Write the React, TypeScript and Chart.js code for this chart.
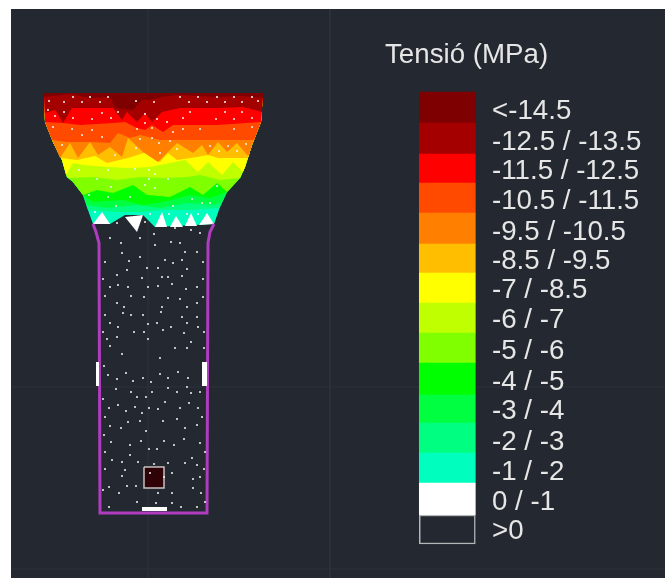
import React, { useEffect, useRef } from "react";
import { Chart, registerables } from "chart.js";

Chart.register(...registerables);

type P = [number, number];

const FONT = '"Liberation Sans", Arial, sans-serif';
const TITLE = "Tensió (MPa)";
const legendLabels = [
  "<-14.5", "-12.5 / -13.5", "-11.5 / -12.5", "-10.5 / -11.5", "-9.5 / -10.5", "-8.5 / -9.5", "-7 / -8.5",
  "-6 / -7", "-5 / -6", "-4 / -5", "-3 / -4", "-2 / -3", "-1 / -2", "0 / -1", ">0",
];
const legendLabelY = [111, 142, 171, 201, 232, 261, 290, 320, 351, 382, 411, 442, 472, 502, 531];
const legendEdges = [92, 123, 154, 183, 213, 244, 273, 303, 333, 363, 395, 423, 453, 483, 515, 544];
const legendColors = [
  "#7f0000", "#a50000", "#ff0000", "#ff4a00", "#ff8000", "#ffbf00", "#ffff00",
  "#bfff00", "#80ff00", "#00ff00", "#00ff40", "#00ff80", "#00ffbf", "#ffffff", "#242830",
];

const panel: P[] = [[11, 9], [665, 9], [665, 578], [11, 578]];
const gridV: P[] = [[330, 9], [330, 578]];
const gridV2: P[] = [[148, 9], [148, 578]];
const gridH: P[] = [[11, 387], [665, 387]];
const gridH2: P[] = [[11, 569], [665, 569]];

const headLeft: P[] = [[44, 93], [45, 122], [53, 142], [62, 160], [67, 177], [73, 182], [83, 195], [88, 210], [93, 224]];
const headRight: P[] = [[263, 93], [261, 122], [252, 145], [245, 167], [240, 178], [227, 192], [220, 207], [214, 224]];
const headBottom: P[] = [[110, 224], [125, 215], [143, 215], [155, 227]];

// lower boundary of each stress band, from the hottest band down
const boundaryA: P[] = [[44, 97], [70, 94], [90, 98], [110, 97], [115, 108], [133, 110], [142, 100], [150, 100], [162, 97], [177, 95], [217, 97], [243, 96], [263, 98]];
const boundaryB: P[] = [[45, 113], [55, 110], [63, 123], [72, 108], [113, 108], [122, 120], [127, 112], [137, 122], [145, 113], [152, 122], [162, 112], [180, 108], [217, 108], [243, 107], [262, 112]];
const boundaryC: P[] = [[45, 122], [63, 123], [80, 125], [113, 123], [125, 122], [137, 128], [145, 130], [152, 125], [163, 132], [173, 125], [217, 125], [261, 122]];
const boundaryD: P[] = [[52, 140], [67, 142], [90, 142], [110, 143], [118, 133], [130, 138], [140, 135], [160, 140], [180, 140], [217, 140], [254, 140]];
const boundaryE: P[] = [[60, 158], [70, 143], [78, 158], [90, 142], [98, 155], [110, 147], [122, 157], [128, 138], [143, 152], [158, 162], [177, 143], [193, 153], [202, 145], [208, 155], [218, 142], [227, 152], [237, 143], [247, 155], [249, 155]];
const boundaryF: P[] = [[61, 158], [77, 160], [95, 156], [107, 163], [128, 158], [147, 152], [160, 162], [168, 153], [177, 160], [197, 157], [208, 155], [218, 158], [237, 158], [248, 158]];
const boundaryG: P[] = [[66, 175], [73, 163], [83, 165], [107, 167], [130, 168], [150, 167], [170, 163], [185, 160], [198, 172], [208, 162], [222, 175], [233, 162], [243, 172]];
const boundaryH: P[] = [[68, 178], [93, 177], [117, 180], [140, 177], [163, 178], [187, 177], [200, 175], [220, 180], [240, 178]];
const boundaryI: P[] = [[73, 182], [83, 195], [97, 190], [113, 193], [133, 185], [147, 195], [170, 197], [190, 187], [203, 195], [217, 183], [227, 192]];
const boundaryJ: P[] = [[83, 195], [93, 202], [123, 200], [143, 205], [163, 202], [190, 195], [210, 198], [227, 192]];
const boundaryK: P[] = [[87, 205], [107, 208], [137, 205], [160, 208], [187, 203], [213, 205], [221, 203]];
const boundaryL: P[] = [[88, 210], [117, 212], [140, 212], [163, 210], [190, 210], [220, 208]];
const boundaries = [boundaryA, boundaryB, boundaryC, boundaryD, boundaryE, boundaryF, boundaryG, boundaryH, boundaryI, boundaryJ, boundaryK, boundaryL];

const whiteTeeth: P[][] = [
  [[93, 224], [102, 212], [110, 224]],
  [[125, 217], [143, 215], [137, 232]],
  [[155, 227], [162, 212], [167, 227]],
  [[170, 227], [176, 216], [183, 227]],
  [[185, 226], [191, 213], [197, 226]],
  [[199, 225], [207, 213], [214, 224]],
];

const wall: P[] = [[93, 224], [96, 232], [99, 243], [100, 513], [207, 513], [208, 243], [210, 232], [214, 224]];
const plateLeft: P[] = [[96, 362], [99, 362], [99, 386], [96, 386]];
const plateRight: P[] = [[202, 362], [207, 362], [207, 386], [202, 386]];
const plateBottom: P[] = [[142, 507], [167, 507], [167, 511], [142, 511]];
const core: P[] = [[144, 467], [164, 467], [164, 488], [144, 488], [144, 467]];

const stressPoints: P[] = [
  [73,97],[90,97],[108,97],[180,97],[198,97],[217,97],[234,97],[252,97],
  [49,101],[64,102],[82,102],[100,102],[154,102],[136,101],[189,102],[207,102],[225,102],[242,102],[258,101],
  [48,110],[64,112],[118,112],[145,114],[102,113],[190,112],[225,112],[242,112],
  [55,116],[73,118],[92,119],[111,118],[157,119],[183,118],[216,119],[234,119],[252,118],
  [145,123],[167,122],
  [53,127],[72,129],[92,130],[137,129],[152,128],[173,132],[183,129],[200,129],[234,129],[252,127],
  [82,135],[102,137],[140,139],[152,138],[170,141],
  [62,145],[159,143],[210,146],[228,146],[246,144],[136,148],[177,149],[219,151],[237,151],[160,153],[115,155],
  [79,170],[108,170],[135,169],[149,170],[155,174],[97,179],[149,179],[168,179],[145,185],[155,188],[111,187],[217,186],
  [89,195],[108,197],[130,197],[192,199],[202,203],[210,203],[116,206],[173,206],[95,212],[150,214],[169,214],[187,214],[198,214],
  [117,223],[145,222],[154,234],[175,228],[191,230],[200,233],[110,238],[121,243],[140,238],[171,242],[155,245],[180,243],
  [185,252],[197,252],[122,253],[105,262],[129,261],[140,257],[165,260],[182,260],[173,263],[203,262],[147,268],[158,268],
  [187,269],[127,270],[117,275],[142,278],[162,277],[168,277],[182,276],[103,279],[203,279],[110,287],[118,285],[128,287],
  [148,287],[158,286],[172,284],[186,289],[197,287],[105,296],[131,296],[144,297],[168,298],[180,299],[203,297],[197,303],
  [117,303],[162,307],[187,307],[124,307],[105,315],[131,315],[143,315],[161,312],[182,317],[197,317],[123,313],[110,323],
  [148,324],[157,323],[171,327],[187,323],[118,327],[103,332],[134,332],[144,332],[163,330],[204,332],[184,333],[198,327],
  [117,337],[148,339],[107,339],[191,342],[175,348],[187,348],[204,348],
  [110,346],[122,354],[104,366],[108,375],[126,373],[117,379],[133,381],[143,378],[151,382],[160,374],[160,358],[178,372],
  [168,378],[188,378],[116,389],[131,392],[152,392],[168,388],[177,392],[187,387],[191,393],[200,392],[103,399],[118,405],
  [137,397],[146,397],[135,407],[149,408],[158,409],[165,402],[180,408],[189,403],[198,408],[109,408],[105,417],[126,411],
  [142,413],[128,422],[140,421],[163,421],[177,419],[202,417],[110,426],[121,428],[146,431],[185,428],[197,425],[104,435],
  [111,442],[130,445],[141,441],[164,441],[174,445],[184,439],[200,443],[105,452],[149,449],[157,449],[130,455],[205,452],
  [112,460],[122,462],[138,462],[154,464],[168,463],[185,463],[192,458],[105,469],[125,470],[122,476],[172,473],[197,465],
  [204,469],[193,479],[200,477],[127,486],[109,487],[136,486],[193,488],[103,490],[119,493],[158,493],[172,493],[201,493],
  [137,502],[156,503],[172,503],[205,502],[109,507],[181,507],[197,507],[150,473],[164,477],
];

const toXY = (pts: P[]) => pts.map(([x, y]) => ({ x, y }));

function bandPolygon(boundary: P[]): P[] {
  const first = boundary[0];
  const last = boundary[boundary.length - 1];
  const left = headLeft.filter((p) => p[1] < first[1]);
  const right = headRight.filter((p) => p[1] < last[1]).reverse();
  return [...left, ...boundary, ...right];
}

export default function App() {
  const ref = useRef<HTMLCanvasElement | null>(null);
  useEffect(() => {
    if (!ref.current) return;
    const shapes: any[] = [];
    const fillShape = (label: string, pts: P[], color: string, extra: any = {}) =>
      shapes.push({
        label,
        type: "scatter",
        data: toXY(pts),
        showLine: true,
        fill: "shape",
        backgroundColor: color,
        borderColor: color,
        borderWidth: 0,
        borderDash: [9999],
        pointRadius: 0,
        ...extra,
      });
    const stroke = (label: string, pts: P[], color: string, width: number) =>
      shapes.push({
        label,
        type: "scatter",
        data: toXY(pts),
        showLine: true,
        fill: false,
        borderColor: color,
        backgroundColor: color,
        borderWidth: width,
        pointRadius: 0,
      });

    fillShape("panel", panel, "#242830");
    stroke("gridV", gridV, "#2e323a", 1);
    stroke("gridV2", gridV2, "#2a2e36", 1);
    stroke("gridH", gridH, "#2c3038", 1);
    stroke("gridH2", gridH2, "#2c3038", 1);
    fillShape("-1 / -2 head", [...headLeft, ...headBottom, ...[...headRight].reverse()], legendColors[12]);
    const bandColors = legendColors.slice(0, 13).reverse().slice(1); // from -2/-3 up to <-14.5
    const rev = [...boundaries].reverse();
    rev.forEach((b, i) => fillShape(legendLabels[11 - i], bandPolygon(b), bandColors[i]));
    whiteTeeth.forEach((t, i) => fillShape("0 / -1 #" + i, t, "#ffffff"));
    stroke("wall", wall, "#b03cc0", 3);
    fillShape("plate left", plateLeft, "#ffffff");
    fillShape("plate right", plateRight, "#ffffff");
    fillShape("plate bottom", plateBottom, "#ffffff");
    fillShape("core", core, "#2e0206", { borderColor: "#c8c0c0", borderWidth: 1.5 });
    shapes.push({
      label: "points",
      type: "scatter",
      data: toXY(stressPoints),
      showLine: false,
      pointStyle: "circle",
      pointRadius: 1,
      pointBorderWidth: 0,
      backgroundColor: "#f4f4f4",
    });
    shapes.push({
      label: "scale",
      type: "bar",
      data: legendColors.map((_, i) => ({ x: 447.3, y: [legendEdges[i], legendEdges[i + 1]] })),
      backgroundColor: legendColors,
      borderColor: legendColors.map((_, i) => (i === 14 ? "#b4b6ba" : "rgba(0,0,0,0)")),
      borderWidth: legendColors.map((_, i) => (i === 14 ? 1.5 : 0)),
      borderSkipped: false,
      barThickness: 56,
    });
    const n = shapes.length;
    shapes.forEach((s, i) => (s.order = n - i));

    const textPlugin = {
      id: "legendText",
      afterDraw(chart: any) {
        const { ctx, scales } = chart;
        ctx.save();
        ctx.fillStyle = "#e6e6e6";
        ctx.textBaseline = "middle";
        ctx.textAlign = "left";
        ctx.font = `27.7px ${FONT}`;
        ctx.fillText(TITLE, scales.x.getPixelForValue(385), scales.y.getPixelForValue(55));
        legendLabels.forEach((t, i) => {
          ctx.fillText(t, scales.x.getPixelForValue(492), scales.y.getPixelForValue(legendLabelY[i]));
        });
        ctx.restore();
      },
    };

    const chart = new Chart(ref.current, {
      type: "scatter",
      data: { datasets: shapes },
      options: {
        responsive: false,
        animation: false,
        devicePixelRatio: 1,
        layout: { padding: 0, autoPadding: false },
        plugins: { legend: { display: false }, tooltip: { enabled: false }, title: { display: false } },
        scales: {
          x: { type: "linear", display: false, min: 0, max: 665, offset: false },
          y: { type: "linear", display: false, min: 0, max: 578, reverse: true },
        },
      } as any,
      plugins: [textPlugin],
    } as any);
    return () => chart.destroy();
  }, []);
  return (
    <div style={{ position: "fixed", left: 0, top: 0, width: 665, height: 578, background: "#fff", overflow: "hidden" }}>
      <canvas ref={ref} width={665} height={578} style={{ display: "block", filter: "blur(0.4px)" }} />
    </div>
  );
}
